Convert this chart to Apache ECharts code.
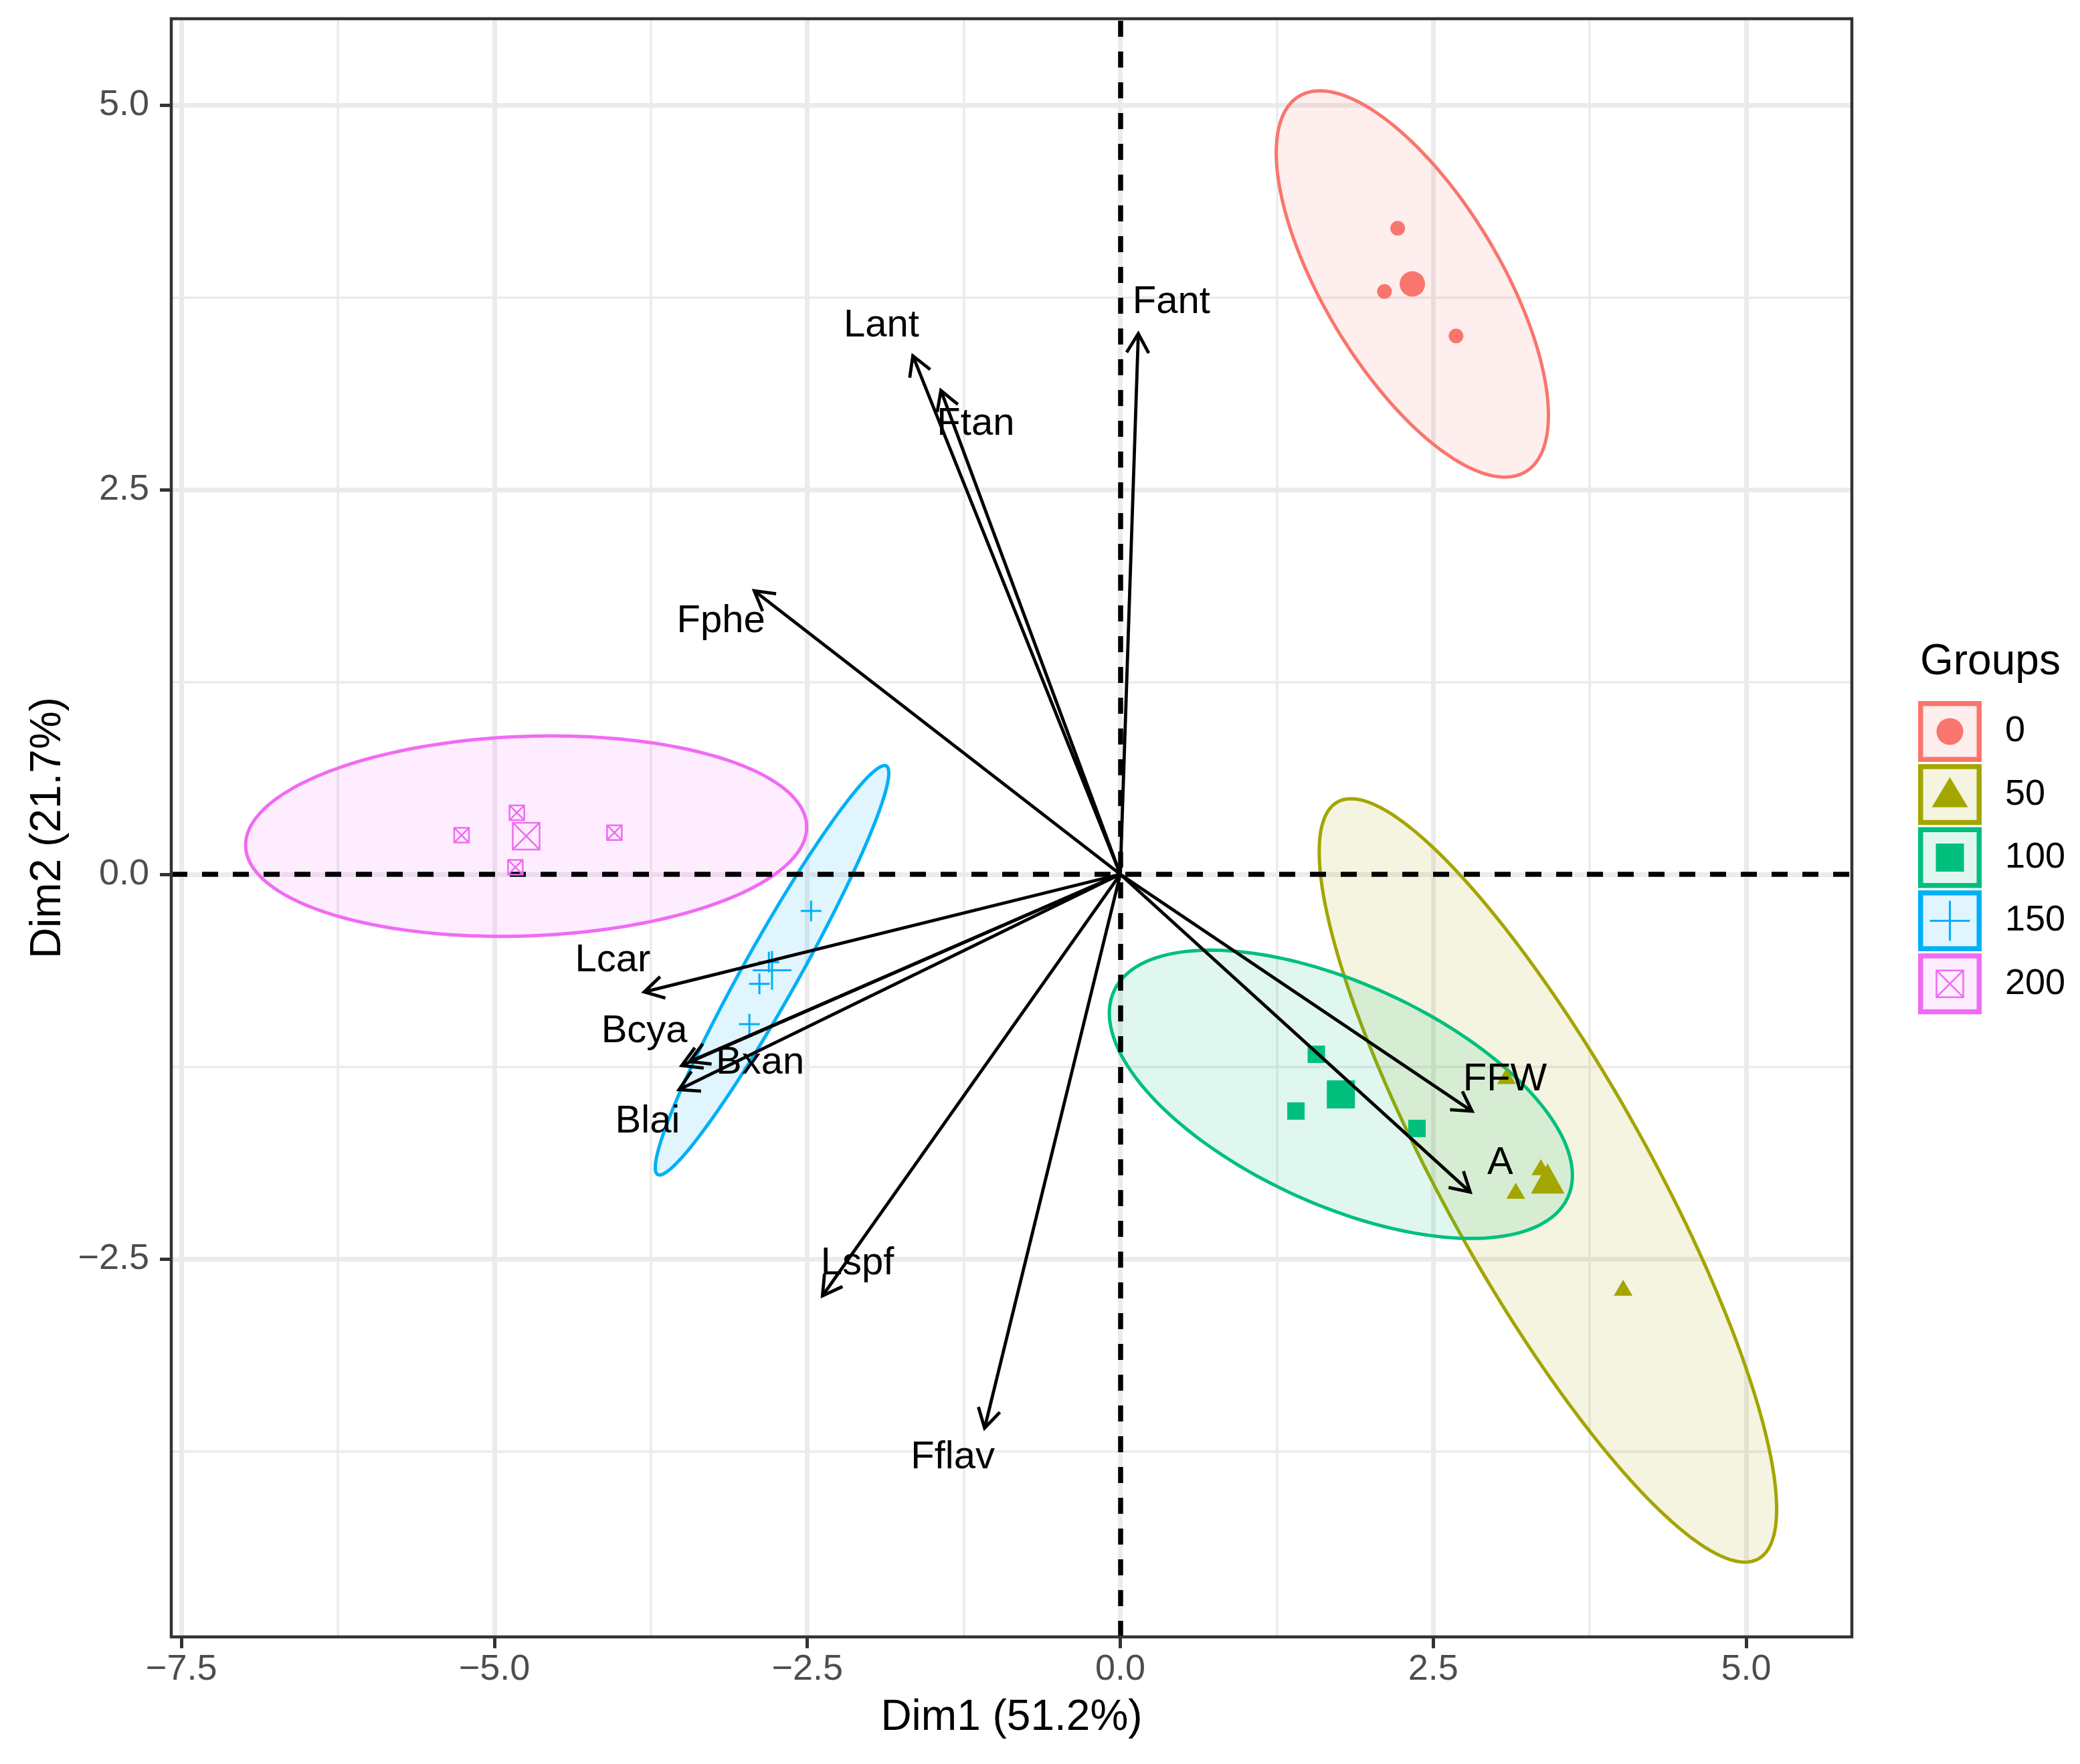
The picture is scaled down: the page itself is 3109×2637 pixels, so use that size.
<!DOCTYPE html>
<html>
<head>
<meta charset="utf-8">
<script type="text/javascript" src="https://cdn.jsdelivr.net/npm/echarts/dist/echarts.min.js"></script>
</head>
<body style="margin: 0; background: #fff">
<div id="container" style="width: 3109px; height: 2637px"></div>
<script type="text/javascript">
// groups (legend order)
var groupNames = ['0', '50', '100', '150', '200'];
var groupColors = ['#F8766D', '#A3A500', '#00BF7D', '#00B0F6', '#F06BF3'];

// individuals per group
var ind0 = [[2.216, 4.199], [2.110, 3.788], [2.682, 3.499]];
var ind50 = [[3.360, -1.904], [3.159, -2.057], [4.017, -2.687], [3.085, -1.311]];
var ind100 = [[1.566, -1.170], [1.403, -1.539], [2.370, -1.652]];
var ind150 = [[-2.470, -0.238], [-2.807, -0.571], [-2.883, -0.712], [-2.963, -0.974]];
var ind200 = [[-5.262, 0.254], [-4.820, 0.400], [-4.041, 0.271], [-4.832, 0.046]];
var groupMeans = [[2.333, 3.837], [3.414, -1.977], [1.762, -1.431], [-2.782, -0.624], [-4.746, 0.248]];

// confidence ellipses: centre x, centre y, semi-axis 1 (dx, dy), semi-axis 2 (dx, dy)
var ellipseParams = [
    [2.333, 3.837, 0.906, -1.220, -0.601, -0.296],
    [3.416, -1.990, 1.681, -2.460, -0.716, -0.324],
    [1.762, -1.430, 1.813, -0.670, -0.366, -0.655],
    [-2.782, -0.624, 0.913, 1.328, 0.191, -0.087],
    [-4.746, 0.248, 2.241, 0.067, 0.029, -0.648]
];

// variables: arrow tips and label positions
var varNames = ['Lant', 'Ftan', 'Fant', 'Fphe', 'Lcar', 'Bcya', 'Bxan', 'Blai', 'Lspf', 'Fflav', 'FFW', 'A'];
var varTips = [[-1.657, 3.370], [-1.433, 3.145], [0.144, 3.514], [-2.924, 1.843], [-3.803, -0.765], [-3.503, -1.243],
    [-3.440, -1.217], [-3.525, -1.400], [-2.379, -2.740], [-1.084, -3.600], [2.810, -1.540], [2.795, -2.066]];
var varLabels = [[-1.908, 3.567], [-1.155, 2.926], [0.408, 3.717], [-3.190, 1.644], [-4.054, -0.563], [-3.802, -1.021],
    [-2.877, -1.225], [-3.776, -1.610], [-2.100, -2.532], [-1.338, -3.790], [3.073, -1.333], [3.035, -1.879]];

// axes
var xRange = [-7.581, 5.844];
var yRange = [-4.957, 5.561];
var xTicks = [-7.5, -5, -2.5, 0, 2.5, 5];
var yTicks = [-2.5, 0, 2.5, 5];
var xMinor = [-6.25, -3.75, -1.25, 1.25, 3.75];
var yMinor = [-3.75, -1.25, 1.25, 3.75];

var font = '"Liberation Sans", Arial, sans-serif';
var groupPoints = [ind0, ind50, ind100, ind150, ind200];

function hexAlpha(hex, a) {
    var n = parseInt(hex.slice(1), 16);
    return 'rgba(' + (n >> 16) + ',' + ((n >> 8) & 255) + ',' + (n & 255) + ',' + a + ')';
}
function tickFmt(v) {
    return (v < 0 ? '\u2212' : '') + Math.abs(v).toFixed(1);
}

var dom = document.getElementById('container');
var myChart = echarts.init(dom, null, {renderer: 'canvas'});

// symbol per group: [shape, small size, big size, filled, stroke width]
var symbols = [
    ['circle', 22, 38, true, 0],
    ['triangle', [28, 24], [50, 45], true, 0],
    ['rect', 26, 42, true, 0],
    ['path://M5,0 L5,10 M0,5 L10,5', 31, 58, false, 3],
    ['path://M0,0 L10,0 L10,10 L0,10 Z M0,0 L10,10 M10,0 L0,10', 22, 40, false, 2.5]
];

var series = [];

// grid lines
series.push({
    type: 'scatter', data: [], silent: true,
    markLine: {
        silent: true, symbol: 'none', z: 0, animation: false,
        label: {show: false},
        lineStyle: {color: '#EBEBEB', width: 3.5, type: 'solid'},
        data: xMinor.map(function (v) { return {xAxis: v}; }).concat(yMinor.map(function (v) { return {yAxis: v}; }))
    }
});
series.push({
    type: 'scatter', data: [], silent: true,
    markLine: {
        silent: true, symbol: 'none', z: 0, animation: false,
        label: {show: false},
        lineStyle: {color: '#EBEBEB', width: 7, type: 'solid'},
        data: xTicks.map(function (v) { return {xAxis: v}; }).concat(yTicks.map(function (v) { return {yAxis: v}; }))
    }
});

// ellipses
series.push({
    type: 'custom', z: 1, silent: true,
    data: ellipseParams.map(function (e, i) { return e.concat([i]); }),
    renderItem: function (params, api) {
        var cx = api.value(0), cy = api.value(1);
        var ux = api.value(2), uy = api.value(3), vx = api.value(4), vy = api.value(5);
        var g = api.value(6);
        var pts = [];
        for (var k = 0; k < 180; k++) {
            var t = k / 180 * Math.PI * 2;
            pts.push(api.coord([cx + ux * Math.cos(t) + vx * Math.sin(t), cy + uy * Math.cos(t) + vy * Math.sin(t)]));
        }
        return {
            type: 'polygon',
            shape: {points: pts},
            style: {fill: hexAlpha(groupColors[g], 0.12), stroke: groupColors[g], lineWidth: 5}
        };
    }
});

// dashed zero lines
series.push({
    type: 'scatter', data: [], silent: true,
    markLine: {
        silent: true, symbol: 'none', z: 2, animation: false,
        label: {show: false},
        lineStyle: {color: '#000', width: 7.5, type: [24, 22]},
        data: [{xAxis: 0}, {yAxis: 0}]
    }
});

// individuals
groupPoints.forEach(function (pts, g) {
    var s = symbols[g];
    var data = pts.map(function (p) { return {value: p, symbolSize: s[1]}; });
    data.push({value: groupMeans[g], symbolSize: s[2]});
    series.push({
        type: 'scatter', name: groupNames[g], z: 3, silent: true,
        symbol: s[0],
        itemStyle: s[3] ? {color: groupColors[g], opacity: 1}
            : {color: 'rgba(0,0,0,0)', borderColor: groupColors[g], borderWidth: s[4], opacity: 1},
        data: data
    });
});

// variable arrows
series.push({
    type: 'custom', z: 4, silent: true,
    data: varTips,
    renderItem: function (params, api) {
        var o = api.coord([0, 0]);
        var p = api.coord([api.value(0), api.value(1)]);
        var ang = Math.atan2(p[1] - o[1], p[0] - o[0]);
        var L = 33, a = Math.PI / 6;
        var h1 = [p[0] - L * Math.cos(ang - a), p[1] - L * Math.sin(ang - a)];
        var h2 = [p[0] - L * Math.cos(ang + a), p[1] - L * Math.sin(ang + a)];
        return {
            type: 'group',
            children: [
                {type: 'line', shape: {x1: o[0], y1: o[1], x2: p[0], y2: p[1]}, style: {stroke: '#000', lineWidth: 4.8}},
                {type: 'polyline', shape: {points: [h1, p, h2]}, style: {stroke: '#000', lineWidth: 4.8, fill: null}}
            ]
        };
    }
});

// variable labels
series.push({
    type: 'custom', z: 5, silent: true,
    data: varLabels,
    renderItem: function (params, api) {
        var p = api.coord([api.value(0), api.value(1)]);
        return {
            type: 'text', x: p[0], y: p[1],
            style: {
                text: varNames[params.dataIndex], fill: '#000',
                fontSize: 58, fontFamily: font, align: 'center', verticalAlign: 'middle'
            }
        };
    }
});

// legend drawn as graphic boxes
var legendTop = 1048, keyH = 94.3, keyW = 95, keyX = 2867;
var graphics = [{
    type: 'text', left: 2870, top: 990 - 32,
    style: {text: 'Groups', fontSize: 64, fontFamily: font, fill: '#000'}
}];
groupNames.forEach(function (name, g) {
    var y0 = legendTop + g * keyH;
    var cx = keyX + keyW / 2, cy = y0 + 45.5;
    var c = groupColors[g];
    var kids = [{
        type: 'rect',
        shape: {x: keyX + 3.75, y: y0 + 3.75, width: keyW - 7.5, height: 91 - 7.5},
        style: {fill: hexAlpha(c, 0.12), stroke: c, lineWidth: 7.5}
    }];
    if (g === 0) {
        kids.push({type: 'circle', shape: {cx: cx, cy: cy, r: 20}, style: {fill: c}});
    } else if (g === 1) {
        kids.push({type: 'polygon', shape: {points: [[cx, cy - 26], [cx + 27, cy + 19], [cx - 27, cy + 19]]}, style: {fill: c}});
    } else if (g === 2) {
        kids.push({type: 'rect', shape: {x: cx - 21, y: cy - 21, width: 42, height: 42}, style: {fill: c}});
    } else if (g === 3) {
        kids.push({type: 'polyline', shape: {points: [[cx - 30, cy], [cx + 30, cy]]}, style: {stroke: c, lineWidth: 3}});
        kids.push({type: 'polyline', shape: {points: [[cx, cy - 30], [cx, cy + 30]]}, style: {stroke: c, lineWidth: 3}});
    } else {
        kids.push({type: 'rect', shape: {x: cx - 20, y: cy - 20, width: 40, height: 40}, style: {fill: null, stroke: c, lineWidth: 2.5}});
        kids.push({type: 'polyline', shape: {points: [[cx - 20, cy - 20], [cx + 20, cy + 20]]}, style: {stroke: c, lineWidth: 2.5}});
        kids.push({type: 'polyline', shape: {points: [[cx + 20, cy - 20], [cx - 20, cy + 20]]}, style: {stroke: c, lineWidth: 2.5}});
    }
    kids.push({
        type: 'text', x: 2997, y: cy,
        style: {text: name, fontSize: 54, fontFamily: font, fill: '#000', verticalAlign: 'middle', align: 'left'}
    });
    graphics.push({type: 'group', children: kids});
});

var option = {
    animation: false,
    backgroundColor: '#fff',
    grid: {
        left: 256, right: 341, top: 28, bottom: 190,
        show: true, z: 10, backgroundColor: 'transparent',
        borderColor: '#333', borderWidth: 4.5
    },
    xAxis: {
        type: 'value', min: xRange[0], max: xRange[1],
        name: 'Dim1 (51.2%)', nameLocation: 'middle', nameGap: 89,
        nameTextStyle: {fontSize: 64, fontFamily: font, color: '#000'},
        axisLine: {show: false, onZero: false},
        axisTick: {show: true, customValues: xTicks, length: 17, lineStyle: {color: '#333', width: 5}},
        axisLabel: {customValues: xTicks, formatter: tickFmt, margin: 22, fontSize: 54, fontFamily: font, color: '#4D4D4D'},
        splitLine: {show: false}
    },
    yAxis: {
        type: 'value', min: yRange[0], max: yRange[1],
        name: 'Dim2 (21.7%)', nameLocation: 'middle', nameGap: 152,
        nameTextStyle: {fontSize: 64, fontFamily: font, color: '#000'},
        axisLine: {show: false, onZero: false},
        axisTick: {show: true, customValues: yTicks, length: 17, lineStyle: {color: '#333', width: 5}},
        axisLabel: {customValues: yTicks, formatter: tickFmt, margin: 33, fontSize: 54, fontFamily: font, color: '#4D4D4D'},
        splitLine: {show: false}
    },
    graphic: graphics,
    series: series
};
myChart.setOption(option);
</script>
</body>
</html>
